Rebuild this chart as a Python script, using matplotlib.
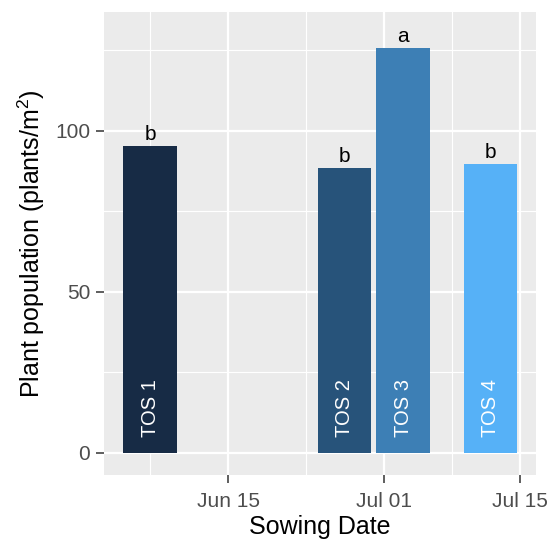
import numpy as np
import matplotlib
matplotlib.use("Agg")
import matplotlib.pyplot as plt
import matplotlib.dates as mdates
from datetime import datetime, timedelta

plt.rcParams['font.family'] = ['Liberation Sans', 'DejaVu Sans']
plt.rcParams['mathtext.fontset'] = 'custom'
plt.rcParams['mathtext.rm'] = 'Liberation Sans'
plt.rcParams['mathtext.it'] = 'Liberation Sans:italic'

#Data
tos_labels = ['TOS 1', 'TOS 2', 'TOS 3', 'TOS 4']
sowing_dates = [datetime(2019, 6, 7), datetime(2019, 6, 27), datetime(2019, 7, 3), datetime(2019, 7, 12)]
plant_pop = [95.3, 88.5, 125.6, 89.8]
letters = ['b', 'b', 'a', 'b']
bar_colors = ['#172B45', '#27537A', '#3D7FB5', '#56B1F7']

#Figure
fig = plt.figure(figsize=(5.49, 5.47), dpi=100)
ax = fig.add_axes([104/549, (547-475)/547, (536-104)/549, (475-12)/547])
ax.set_facecolor('#EBEBEB')

x = mdates.date2num(sowing_dates)
ax.bar(x, plant_pop, width=5.5, color=bar_colors, zorder=3)

for xi, yi, lab, let in zip(x, plant_pop, tos_labels, letters):
    ax.text(xi, yi + 0.6, let, ha='center', va='bottom', fontsize=15, color='black', zorder=4)
    ax.text(xi, 5, lab, rotation=90, rotation_mode='anchor', ha='left', va='center',
            fontsize=14.5, color='white', zorder=4)

#Axes limits and ticks
ax.set_xlim(mdates.date2num(datetime(2019, 6, 2, 6)), mdates.date2num(datetime(2019, 7, 16, 16)))
ax.set_ylim(-6.9, 136.9)
ax.set_yticks([0, 50, 100])
ax.set_yticks([25, 75, 125], minor=True)
major_x = [datetime(2019, 6, 15), datetime(2019, 7, 1), datetime(2019, 7, 15)]
minor_x = [datetime(2019, 6, 7), datetime(2019, 6, 23), datetime(2019, 7, 8)]
ax.set_xticks(mdates.date2num(major_x))
ax.set_xticklabels([d.strftime('%b %d') for d in major_x])
ax.set_xticks(mdates.date2num(minor_x), minor=True)

ax.grid(which='major', color='white', linewidth=1.6, zorder=0)
ax.grid(which='minor', color='white', linewidth=0.8, zorder=0)
ax.set_axisbelow(True)
for s in ax.spines.values():
    s.set_visible(False)

ax.tick_params(which='major', length=6, width=1.1, color='#333333', labelsize=15,
               labelcolor='#4D4D4D', pad=4)
ax.tick_params(which='minor', length=0)
ax.tick_params(axis='x', pad=6)

ax.set_xlabel('Sowing Date', fontsize=18, labelpad=3)
ax.set_ylabel('Plant population (plants/m$^{2}$)', fontsize=18, labelpad=6)

fig.savefig('out.png', dpi=100)
